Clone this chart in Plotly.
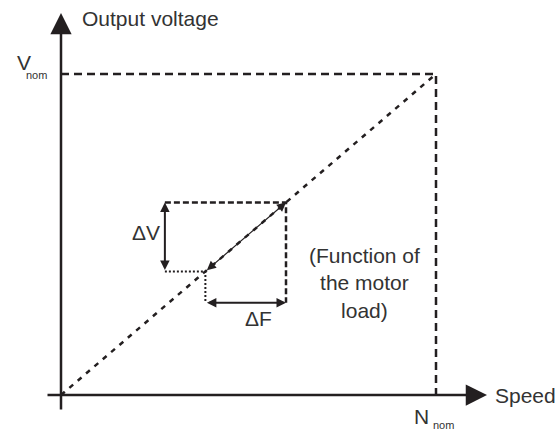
import plotly.graph_objects as go

# ---- data (normalised: N_nom = 1, V_nom = 1) ----
V_NOM = 1.0
N_NOM = 1.0
speed_axis = [-0.04, 1.136]      # x-axis tail / arrow tip
voltage_axis = [-0.05, 1.19]     # y-axis tail / arrow tip
op_low = 0.385                   # operating point before the change
op_high = 0.60                   # operating point after the change
dv_x = 0.277                     # speed where the ΔV arrow is drawn
df_y = 0.287                     # voltage where the ΔF arrow is drawn

labels = {
    "y": "Output voltage",
    "x": "Speed",
    "v": "V",
    "n": "N",
    "sub": "nom",
    "dv": "ΔV",
    "df": "ΔF",
    "note": "(Function of<br>the motor<br>load)",
}

INK = "#231f20"
FONT = "Liberation Sans, Arial, sans-serif"
FS = 21

fig = go.Figure()

# V/f characteristic (dotted diagonal)
fig.add_trace(go.Scatter(x=[0, N_NOM], y=[0, V_NOM], mode="lines",
                         line=dict(color=INK, width=2.5, dash="5px,6px")))
# nominal limits (dashed)
fig.add_trace(go.Scatter(x=[0, N_NOM, N_NOM], y=[V_NOM, V_NOM, 0], mode="lines",
                         line=dict(color=INK, width=2.5, dash="8px,5px")))
# rectangle of the change (dashed)
fig.add_trace(go.Scatter(x=[dv_x, op_high, op_high], y=[op_high, op_high, df_y], mode="lines",
                         line=dict(color=INK, width=2.5, dash="6px,3px")))
# dotted helpers from low operating point
fig.add_trace(go.Scatter(x=[dv_x, op_low, op_low], y=[op_low, op_low, df_y], mode="lines",
                         line=dict(color=INK, width=2, dash="2px,2px")))

ann = []

def arrow(x0, y0, x1, y1, width, size, both=False):
    ann.append(dict(x=x1, y=y1, ax=x0, ay=y0, xref="x", yref="y", axref="x", ayref="y",
                    text="", showarrow=True, arrowhead=2, startarrowhead=2,
                    arrowside="end+start" if both else "end",
                    arrowwidth=width, arrowsize=size, startarrowsize=size,
                    arrowcolor=INK, standoff=0, startstandoff=0))

# axes
arrow(0, voltage_axis[0], 0, voltage_axis[1], 2.5, 1.7)
arrow(speed_axis[0], 0, speed_axis[1], 0, 2.5, 1.7)
# ΔV, ΔF and diagonal change arrows
arrow(dv_x, op_low, dv_x, op_high, 2, 0.95, both=True)
arrow(op_low, df_y, op_high, df_y, 2, 0.95, both=True)
arrow(op_low, op_low, op_high, op_high, 1.2, 1.5, both=True)

def text(s, x, y, size, xanchor="center", yanchor="middle", xshift=0, yshift=0):
    ann.append(dict(x=x, y=y, xref="x", yref="y", text=s, showarrow=False,
                    xanchor=xanchor, yanchor=yanchor, xshift=xshift, yshift=yshift,
                    font=dict(family=FONT, size=size, color="#333333")))

text(labels["y"], 0, voltage_axis[1], FS, xanchor="left", xshift=19, yshift=-5)
text(labels["x"], speed_axis[1], 0, FS, xanchor="left", xshift=6, yshift=0)
text(labels["v"], 0, V_NOM, FS, xanchor="right", xshift=-28, yshift=12)
text(labels["sub"], 0, V_NOM, 11, xanchor="right", xshift=-12, yshift=-1)
text(labels["n"], N_NOM, 0, FS, xanchor="right", xshift=-5, yshift=-21)
text(labels["sub"], N_NOM, 0, 11, xanchor="left", xshift=-5, yshift=-30)
text(labels["dv"], dv_x, (op_low + op_high) / 2, FS, xanchor="right", xshift=-3, yshift=4)
text(labels["df"], (op_low + op_high) / 2, df_y, FS, xshift=13, yshift=-16)
text(labels["note"], 0.81, 0.349, FS)

fig.update_layout(
    width=555, height=430, autosize=False,
    margin=dict(l=0, r=0, t=0, b=0),
    paper_bgcolor="white", plot_bgcolor="white",
    showlegend=False,
    xaxis=dict(range=[-61 / 375, 494 / 375], visible=False, fixedrange=True),
    yaxis=dict(range=[-35 / 321, 395 / 321], visible=False, fixedrange=True),
    annotations=ann,
)

# remove the default 8px page margin so the figure fills the window exactly
fig.write_html("out.html",
               config={"displayModeBar": False, "staticPlot": True},
               post_script="document.body.style.margin='0';document.body.style.overflow='hidden';")
